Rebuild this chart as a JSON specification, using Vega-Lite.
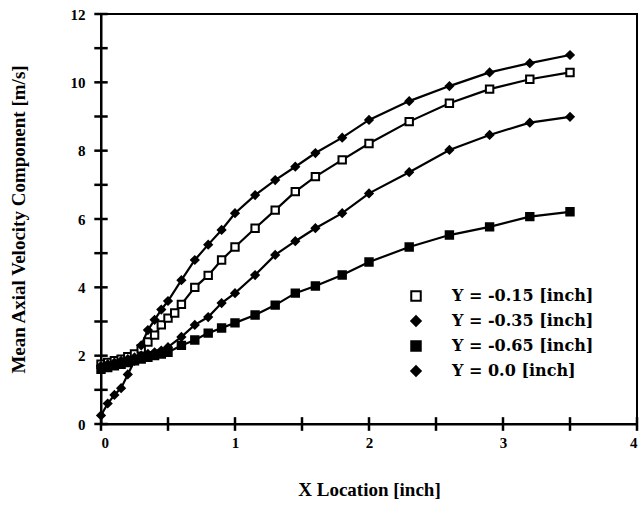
{
  "$schema": "https://vega.github.io/schema/vega-lite/v6.json",
  "width": 536,
  "height": 410,
  "autosize": {"type": "none"},
  "padding": {"left": 101, "top": 14, "right": 2, "bottom": 87},
  "background": "white",
  "config": {
    "view": {"stroke": "black", "strokeWidth": 2},
    "font": "Liberation Serif",
    "axis": {
      "domainColor": "black", "domainWidth": 2, "ticks": false,
      "labelFont": "Liberation Serif", "labelFontWeight": "bold", "labelFontSize": 15, "labelColor": "black",
      "titleFont": "Liberation Serif", "titleFontWeight": "bold", "titleFontSize": 19, "titleColor": "black",
      "grid": false
    },
    "legend": {
      "labelFont": "DejaVu Serif", "labelFontWeight": "bold", "labelFontSize": 16, "labelColor": "black"
    }
  },
  "datasets": {
    "curves": [
      {"s": "Y = -0.15 [inch]", "x": 0, "v": 1.75}, {"s": "Y = -0.15 [inch]", "x": 0.05, "v": 1.8}, {"s": "Y = -0.15 [inch]", "x": 0.1, "v": 1.85}, {"s": "Y = -0.15 [inch]", "x": 0.15, "v": 1.9}, {"s": "Y = -0.15 [inch]", "x": 0.2, "v": 1.97}, {"s": "Y = -0.15 [inch]", "x": 0.25, "v": 2.05}, {"s": "Y = -0.15 [inch]", "x": 0.3, "v": 2.2}, {"s": "Y = -0.15 [inch]", "x": 0.35, "v": 2.4}, {"s": "Y = -0.15 [inch]", "x": 0.4, "v": 2.6}, {"s": "Y = -0.15 [inch]", "x": 0.45, "v": 2.9}, {"s": "Y = -0.15 [inch]", "x": 0.5, "v": 3.1}, {"s": "Y = -0.15 [inch]", "x": 0.55, "v": 3.25}, {"s": "Y = -0.15 [inch]", "x": 0.6, "v": 3.5}, {"s": "Y = -0.15 [inch]", "x": 0.7, "v": 4.0}, {"s": "Y = -0.15 [inch]", "x": 0.8, "v": 4.35}, {"s": "Y = -0.15 [inch]", "x": 0.9, "v": 4.8}, {"s": "Y = -0.15 [inch]", "x": 1.0, "v": 5.18}, {"s": "Y = -0.15 [inch]", "x": 1.15, "v": 5.73}, {"s": "Y = -0.15 [inch]", "x": 1.3, "v": 6.26}, {"s": "Y = -0.15 [inch]", "x": 1.45, "v": 6.8}, {"s": "Y = -0.15 [inch]", "x": 1.6, "v": 7.24}, {"s": "Y = -0.15 [inch]", "x": 1.8, "v": 7.73}, {"s": "Y = -0.15 [inch]", "x": 2.0, "v": 8.21}, {"s": "Y = -0.15 [inch]", "x": 2.3, "v": 8.85}, {"s": "Y = -0.15 [inch]", "x": 2.6, "v": 9.39}, {"s": "Y = -0.15 [inch]", "x": 2.9, "v": 9.8}, {"s": "Y = -0.15 [inch]", "x": 3.2, "v": 10.09}, {"s": "Y = -0.15 [inch]", "x": 3.5, "v": 10.29},
      {"s": "Y = -0.35 [inch]", "x": 0, "v": 1.7}, {"s": "Y = -0.35 [inch]", "x": 0.05, "v": 1.75}, {"s": "Y = -0.35 [inch]", "x": 0.1, "v": 1.8}, {"s": "Y = -0.35 [inch]", "x": 0.15, "v": 1.85}, {"s": "Y = -0.35 [inch]", "x": 0.2, "v": 1.9}, {"s": "Y = -0.35 [inch]", "x": 0.25, "v": 1.95}, {"s": "Y = -0.35 [inch]", "x": 0.3, "v": 2.0}, {"s": "Y = -0.35 [inch]", "x": 0.35, "v": 2.05}, {"s": "Y = -0.35 [inch]", "x": 0.4, "v": 2.1}, {"s": "Y = -0.35 [inch]", "x": 0.45, "v": 2.15}, {"s": "Y = -0.35 [inch]", "x": 0.5, "v": 2.25}, {"s": "Y = -0.35 [inch]", "x": 0.6, "v": 2.55}, {"s": "Y = -0.35 [inch]", "x": 0.7, "v": 2.9}, {"s": "Y = -0.35 [inch]", "x": 0.8, "v": 3.13}, {"s": "Y = -0.35 [inch]", "x": 0.9, "v": 3.54}, {"s": "Y = -0.35 [inch]", "x": 1.0, "v": 3.83}, {"s": "Y = -0.35 [inch]", "x": 1.15, "v": 4.36}, {"s": "Y = -0.35 [inch]", "x": 1.3, "v": 4.95}, {"s": "Y = -0.35 [inch]", "x": 1.45, "v": 5.35}, {"s": "Y = -0.35 [inch]", "x": 1.6, "v": 5.73}, {"s": "Y = -0.35 [inch]", "x": 1.8, "v": 6.17}, {"s": "Y = -0.35 [inch]", "x": 2.0, "v": 6.75}, {"s": "Y = -0.35 [inch]", "x": 2.3, "v": 7.37}, {"s": "Y = -0.35 [inch]", "x": 2.6, "v": 8.02}, {"s": "Y = -0.35 [inch]", "x": 2.9, "v": 8.46}, {"s": "Y = -0.35 [inch]", "x": 3.2, "v": 8.82}, {"s": "Y = -0.35 [inch]", "x": 3.5, "v": 8.99},
      {"s": "Y = -0.65 [inch]", "x": 0, "v": 1.6}, {"s": "Y = -0.65 [inch]", "x": 0.05, "v": 1.65}, {"s": "Y = -0.65 [inch]", "x": 0.1, "v": 1.7}, {"s": "Y = -0.65 [inch]", "x": 0.15, "v": 1.75}, {"s": "Y = -0.65 [inch]", "x": 0.2, "v": 1.8}, {"s": "Y = -0.65 [inch]", "x": 0.25, "v": 1.85}, {"s": "Y = -0.65 [inch]", "x": 0.3, "v": 1.9}, {"s": "Y = -0.65 [inch]", "x": 0.35, "v": 1.95}, {"s": "Y = -0.65 [inch]", "x": 0.4, "v": 2.0}, {"s": "Y = -0.65 [inch]", "x": 0.45, "v": 2.05}, {"s": "Y = -0.65 [inch]", "x": 0.5, "v": 2.1}, {"s": "Y = -0.65 [inch]", "x": 0.6, "v": 2.3}, {"s": "Y = -0.65 [inch]", "x": 0.7, "v": 2.46}, {"s": "Y = -0.65 [inch]", "x": 0.8, "v": 2.66}, {"s": "Y = -0.65 [inch]", "x": 0.9, "v": 2.81}, {"s": "Y = -0.65 [inch]", "x": 1.0, "v": 2.96}, {"s": "Y = -0.65 [inch]", "x": 1.15, "v": 3.19}, {"s": "Y = -0.65 [inch]", "x": 1.3, "v": 3.48}, {"s": "Y = -0.65 [inch]", "x": 1.45, "v": 3.83}, {"s": "Y = -0.65 [inch]", "x": 1.6, "v": 4.04}, {"s": "Y = -0.65 [inch]", "x": 1.8, "v": 4.36}, {"s": "Y = -0.65 [inch]", "x": 2.0, "v": 4.74}, {"s": "Y = -0.65 [inch]", "x": 2.3, "v": 5.18}, {"s": "Y = -0.65 [inch]", "x": 2.6, "v": 5.53}, {"s": "Y = -0.65 [inch]", "x": 2.9, "v": 5.77}, {"s": "Y = -0.65 [inch]", "x": 3.2, "v": 6.07}, {"s": "Y = -0.65 [inch]", "x": 3.5, "v": 6.21},
      {"s": "Y = 0.0 [inch]", "x": 0, "v": 0.25}, {"s": "Y = 0.0 [inch]", "x": 0.05, "v": 0.6}, {"s": "Y = 0.0 [inch]", "x": 0.1, "v": 0.85}, {"s": "Y = 0.0 [inch]", "x": 0.15, "v": 1.05}, {"s": "Y = 0.0 [inch]", "x": 0.2, "v": 1.45}, {"s": "Y = 0.0 [inch]", "x": 0.25, "v": 1.85}, {"s": "Y = 0.0 [inch]", "x": 0.3, "v": 2.3}, {"s": "Y = 0.0 [inch]", "x": 0.35, "v": 2.75}, {"s": "Y = 0.0 [inch]", "x": 0.4, "v": 3.05}, {"s": "Y = 0.0 [inch]", "x": 0.45, "v": 3.35}, {"s": "Y = 0.0 [inch]", "x": 0.5, "v": 3.6}, {"s": "Y = 0.0 [inch]", "x": 0.6, "v": 4.21}, {"s": "Y = 0.0 [inch]", "x": 0.7, "v": 4.8}, {"s": "Y = 0.0 [inch]", "x": 0.8, "v": 5.25}, {"s": "Y = 0.0 [inch]", "x": 0.9, "v": 5.68}, {"s": "Y = 0.0 [inch]", "x": 1.0, "v": 6.17}, {"s": "Y = 0.0 [inch]", "x": 1.15, "v": 6.7}, {"s": "Y = 0.0 [inch]", "x": 1.3, "v": 7.14}, {"s": "Y = 0.0 [inch]", "x": 1.45, "v": 7.53}, {"s": "Y = 0.0 [inch]", "x": 1.6, "v": 7.93}, {"s": "Y = 0.0 [inch]", "x": 1.8, "v": 8.38}, {"s": "Y = 0.0 [inch]", "x": 2.0, "v": 8.9}, {"s": "Y = 0.0 [inch]", "x": 2.3, "v": 9.45}, {"s": "Y = 0.0 [inch]", "x": 2.6, "v": 9.89}, {"s": "Y = 0.0 [inch]", "x": 2.9, "v": 10.29}, {"s": "Y = 0.0 [inch]", "x": 3.2, "v": 10.56}, {"s": "Y = 0.0 [inch]", "x": 3.5, "v": 10.8}
    ],
    "xticks": [{"t": 0}, {"t": 0.5}, {"t": 1}, {"t": 1.5}, {"t": 2}, {"t": 2.5}, {"t": 3}, {"t": 3.5}, {"t": 4}],
    "yticks": [{"t": 0}, {"t": 1}, {"t": 2}, {"t": 3}, {"t": 4}, {"t": 5}, {"t": 6}, {"t": 7}, {"t": 8}, {"t": 9}, {"t": 10}, {"t": 11}, {"t": 12}]
  },
  "layer": [
    {
      "data": {"name": "curves"},
      "mark": {"type": "line", "color": "black", "strokeWidth": 2.2},
      "encoding": {
        "x": {"field": "x", "type": "quantitative", "scale": {"domain": [0, 4], "nice": false},
          "axis": {"title": "X Location [inch]", "values": [0, 1, 2, 3, 4], "format": "d", "labelPadding": 11, "titlePadding": 30}},
        "y": {"field": "v", "type": "quantitative", "scale": {"domain": [0, 12], "nice": false},
          "axis": {"title": "Mean Axial Velocity Component [m/s]", "values": [0, 2, 4, 6, 8, 10, 12], "format": "d", "labelPadding": 16, "titlePadding": 42}},
        "detail": {"field": "s", "type": "nominal"}
      }
    },
    {
      "data": {"name": "xticks"},
      "mark": {"type": "rule", "color": "black", "strokeWidth": 2.5},
      "encoding": {
        "x": {"field": "t", "type": "quantitative", "title": "X Location [inch]"},
        "y": {"datum": -0.2, "title": "Mean Axial Velocity Component [m/s]"},
        "y2": {"datum": 0.2}
      }
    },
    {
      "data": {"name": "yticks"},
      "mark": {"type": "rule", "color": "black", "strokeWidth": 2.5},
      "encoding": {
        "y": {"field": "t", "type": "quantitative", "title": "Mean Axial Velocity Component [m/s]"},
        "x": {"datum": -0.05, "title": "X Location [inch]"},
        "x2": {"datum": 0.05}
      }
    },
    {
      "data": {"name": "curves"},
      "mark": {"type": "point", "size": 55, "strokeWidth": 2, "opacity": 1, "stroke": "black"},
      "encoding": {
        "x": {"field": "x", "type": "quantitative", "title": "X Location [inch]"},
        "y": {"field": "v", "type": "quantitative", "title": "Mean Axial Velocity Component [m/s]"},
        "shape": {"field": "s", "type": "nominal",
          "scale": {"domain": ["Y = -0.15 [inch]", "Y = -0.35 [inch]", "Y = -0.65 [inch]", "Y = 0.0 [inch]"], "range": ["square", "diamond", "square", "diamond"]},
          "legend": {"title": null, "orient": "none", "legendX": 307, "legendY": 274, "symbolSize": 90, "symbolStrokeWidth": 2, "labelOffset": 28, "rowPadding": 7,
            "encode": {"symbols": {"update": {"stroke": {"value": "black"}, "strokeWidth": {"value": 2}}}}}},
        "fill": {"field": "s", "type": "nominal",
          "scale": {"domain": ["Y = -0.15 [inch]", "Y = -0.35 [inch]", "Y = -0.65 [inch]", "Y = 0.0 [inch]"], "range": ["white", "black", "black", "black"]},
          "legend": {"title": null, "orient": "none", "legendX": 307, "legendY": 274, "symbolSize": 90, "symbolStrokeWidth": 2, "labelOffset": 28, "rowPadding": 7,
            "encode": {"symbols": {"update": {"stroke": {"value": "black"}, "strokeWidth": {"value": 2}}}}}}
      }
    }
  ]
}
